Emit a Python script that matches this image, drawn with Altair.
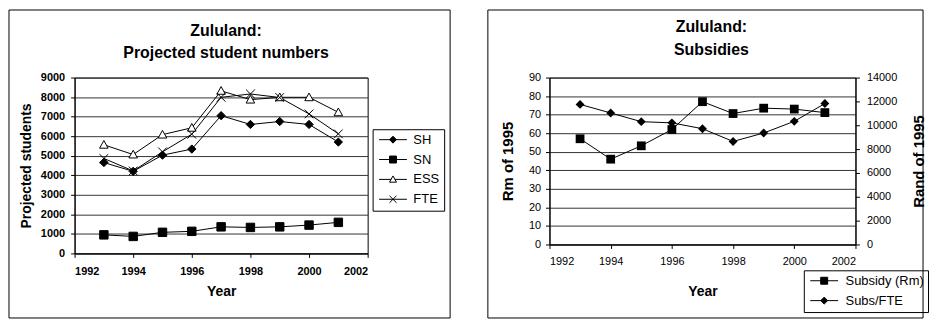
import altair as alt
import pandas as pd

# ---------------- data ----------------
years = [1993, 1994, 1995, 1996, 1997, 1998, 1999, 2000, 2001]
series_names = ["SH", "SN", "ESS", "FTE"]
sh = [4650, 4200, 5030, 5340, 7050, 6600, 6750, 6600, 5700]
sn = [950, 870, 1080, 1130, 1360, 1330, 1360, 1450, 1590]
ess = [5560, 5060, 6080, 6430, 8320, 7870, 7990, 7990, 7220]
fte = [4860, 4220, 5200, 6100, 7990, 8160, 7980, 7140, 6120]

sub_series = ["Subsidy (Rm)", "Subs/FTE"]
subsidy_rm = [57, 46, 53.2, 62, 77, 70.6, 73.5, 73, 71.1]
subs_per_fte = [11750, 11030, 10300, 10200, 9710, 8640, 9350, 10330, 11820]

x_ticks = [1992, 1994, 1996, 1998, 2000, 2002]
left_y_ticks = [0, 1000, 2000, 3000, 4000, 5000, 6000, 7000, 8000, 9000]
rm_ticks = [0, 10, 20, 30, 40, 50, 60, 70, 80, 90]
rand_ticks = [0, 2000, 4000, 6000, 8000, 10000, 12000, 14000]

FONT = "Liberation Sans"

# ---------------- tables ----------------
left_rows = []
for name, vals in zip(series_names, [sh, sn, ess, fte]):
    for yr, v in zip(years, vals):
        left_rows.append({"year": yr, "value": v, "series": name})
left_df = pd.DataFrame(left_rows)

sub_df = pd.DataFrame({"year": years, "value": subsidy_rm, "series": sub_series[0]})
fte_df = pd.DataFrame({"year": years, "value": subs_per_fte, "series": sub_series[1]})
right_df = pd.concat([sub_df, fte_df], ignore_index=True)
one = pd.DataFrame({"k": [0]})

# ---------------- symbols ----------------
DIAMOND = "M0,-1L1,0L0,1L-1,0Z"
SQUARE = "M-1,-1L1,-1L1,1L-1,1Z"
TRI = "M0,-1L1,0.8L-1,0.8Z"
XMARK = "M-1,-1L1,1M-1,1L1,-1"
LINE = "M-4,0L4,0"
LINE_TRI = "M-4,0L-0.56,0M0.56,0L4,0"


def frame(x1, x2, y1, y2):
    return alt.Chart(one).mark_rect(
        filled=False, stroke="black", strokeWidth=1, clip=False
    ).encode(x=alt.value(x1), x2=alt.value(x2), y=alt.value(y1), y2=alt.value(y2))


def x_enc(label_weight, label_pad, title_pad):
    return alt.X(
        "year:Q",
        scale=alt.Scale(domain=[1992, 2002], nice=False, zero=False),
        axis=alt.Axis(
            values=x_ticks, format="d", title="Year", grid=False,
            labelFontWeight=label_weight, labelFontSize=11, labelPadding=label_pad,
            titleFontSize=14, titleFontWeight="bold", titlePadding=title_pad,
        ),
    )


def legend(lx, ly, label_offset):
    return alt.Legend(
        title=None, orient="none", legendX=lx, legendY=ly,
        strokeColor="black", padding=4, symbolSize=49, symbolOffset=10,
        labelOffset=label_offset, labelFont=FONT, labelFontSize=13,
        labelColor="black", rowPadding=6, symbolStrokeWidth=1,
    )


# ---------------- left chart ----------------
left_y = alt.Y(
    "value:Q",
    scale=alt.Scale(domain=[0, 9000], nice=False),
    axis=alt.Axis(
        values=left_y_ticks, format="d", title="Projected students", grid=True,
        labelFontWeight="bold", labelFontSize=11, labelPadding=6,
        titleFontSize=14, titleFontWeight="bold", titlePadding=7,
    ),
)

left_fill_range = ["black", "black", "white", "black"]
left_base = alt.Chart(left_df)
left_lines = left_base.mark_line(color="black", strokeWidth=1).encode(
    x=x_enc("bold", 8, 8), y=left_y, detail="series:N"
)
left_points = left_base.mark_point(
    filled=True, stroke="black", strokeWidth=1, opacity=1
).encode(
    x=x_enc("bold", 8, 8),
    y=left_y,
    shape=alt.Shape(
        "series:N",
        scale=alt.Scale(domain=series_names, range=[DIAMOND, SQUARE, TRI, XMARK]),
        legend=None,
    ),
    fill=alt.Fill(
        "series:N",
        scale=alt.Scale(domain=series_names, range=left_fill_range),
        legend=None,
    ),
    size=alt.Size(
        "series:O",
        scale=alt.Scale(domain=series_names, range=[70, 80, 80, 70]),
        legend=None,
    ),
)
# legend-only layer (draws no marks): line + marker symbols
left_key = left_base.transform_filter("false").mark_point(
    filled=True, stroke="black", strokeWidth=1, opacity=1
).encode(
    shape=alt.Shape(
        "series:N",
        scale=alt.Scale(
            domain=series_names,
            range=[LINE + DIAMOND, LINE + SQUARE, LINE_TRI + TRI, LINE + XMARK],
        ),
        legend=legend(300, 52, 14),
    ),
    fill=alt.Fill(
        "series:N",
        scale=alt.Scale(domain=series_names, range=left_fill_range),
        legend=legend(300, 52, 14),
    ),
)

left_chart = alt.layer(
    frame(-66, 378, -68, 242), left_lines, left_points, left_key
).resolve_scale(shape="independent", fill="independent").properties(
    width=295, height=177,
    title=alt.TitleParams(
        text=["Zululand:", "Projected student numbers"], fontSize=16,
        fontWeight="bold", font=FONT, color="black", lineHeight=22,
        anchor="middle", frame="group", offset=-52, dx=5,
    ),
)

# ---------------- right chart ----------------
rm_y = alt.Y(
    "value:Q",
    scale=alt.Scale(domain=[0, 90], nice=False),
    axis=alt.Axis(
        values=rm_ticks, format="d", title="Rm  of 1995", grid=True,
        labelFontSize=11, labelPadding=5,
        titleFontSize=15, titleFontWeight="bold", titlePadding=13,
    ),
)
rand_y = alt.Y(
    "value:Q",
    scale=alt.Scale(domain=[0, 14000], nice=False),
    axis=alt.Axis(
        values=rand_ticks, format="d", title="Rand of 1995", grid=False,
        orient="right", titleAngle=270,
        labelFontSize=11, labelPadding=7,
        titleFontSize=15, titleFontWeight="bold", titlePadding=30,
    ),
)

right_shape = alt.Shape(
    "series:N",
    scale=alt.Scale(domain=sub_series, range=[SQUARE, DIAMOND]),
    legend=None,
)
right_size = alt.Size(
    "series:O",
    scale=alt.Scale(domain=sub_series, range=[80, 55]),
    legend=None,
)

sub_layer = alt.layer(
    alt.Chart(sub_df).mark_line(color="black", strokeWidth=1).encode(
        x=x_enc("normal", 7, 18), y=rm_y
    ),
    alt.Chart(sub_df).mark_point(filled=True, color="black", opacity=1).encode(
        x=x_enc("normal", 7, 18), y=rm_y, shape=right_shape, size=right_size
    ),
)
fte_layer = alt.layer(
    alt.Chart(fte_df).mark_line(color="black", strokeWidth=1).encode(
        x=x_enc("normal", 7, 18), y=rand_y
    ),
    alt.Chart(fte_df).mark_point(filled=True, color="black", opacity=1).encode(
        x=x_enc("normal", 7, 18), y=rand_y, shape=right_shape, size=right_size
    ),
)
right_key = alt.Chart(right_df).transform_filter("false").mark_point(
    filled=True, color="black", stroke="black", strokeWidth=1, opacity=1
).encode(
    shape=alt.Shape(
        "series:N",
        scale=alt.Scale(domain=sub_series, range=[LINE + SQUARE, LINE + DIAMOND]),
        legend=legend(256, 194, 15),
    ),
)

right_chart = alt.layer(
    frame(-62, 376, -68, 242), sub_layer, fte_layer, right_key
).resolve_scale(y="independent", shape="independent").properties(
    width=308, height=168,
    title=alt.TitleParams(
        text=["Zululand:", "Subsidies"], fontSize=16,
        fontWeight="bold", font=FONT, color="black", lineHeight=23,
        anchor="middle", frame="group", offset=-49, dx=9,
    ),
)

chart = alt.hconcat(
    left_chart, right_chart, spacing=183, bounds="flush"
).properties(
    padding=0, background="white"
).configure_view(
    stroke="black", strokeWidth=1
).configure_axis(
    domainColor="black", tickColor="black", tickSize=4, labelColor="black",
    titleColor="black", labelFont=FONT, titleFont=FONT, gridColor="#333333",
    gridWidth=1, gridOpacity=1,
)

chart.save("out.html", embed_options={"renderer": "svg", "actions": False})
